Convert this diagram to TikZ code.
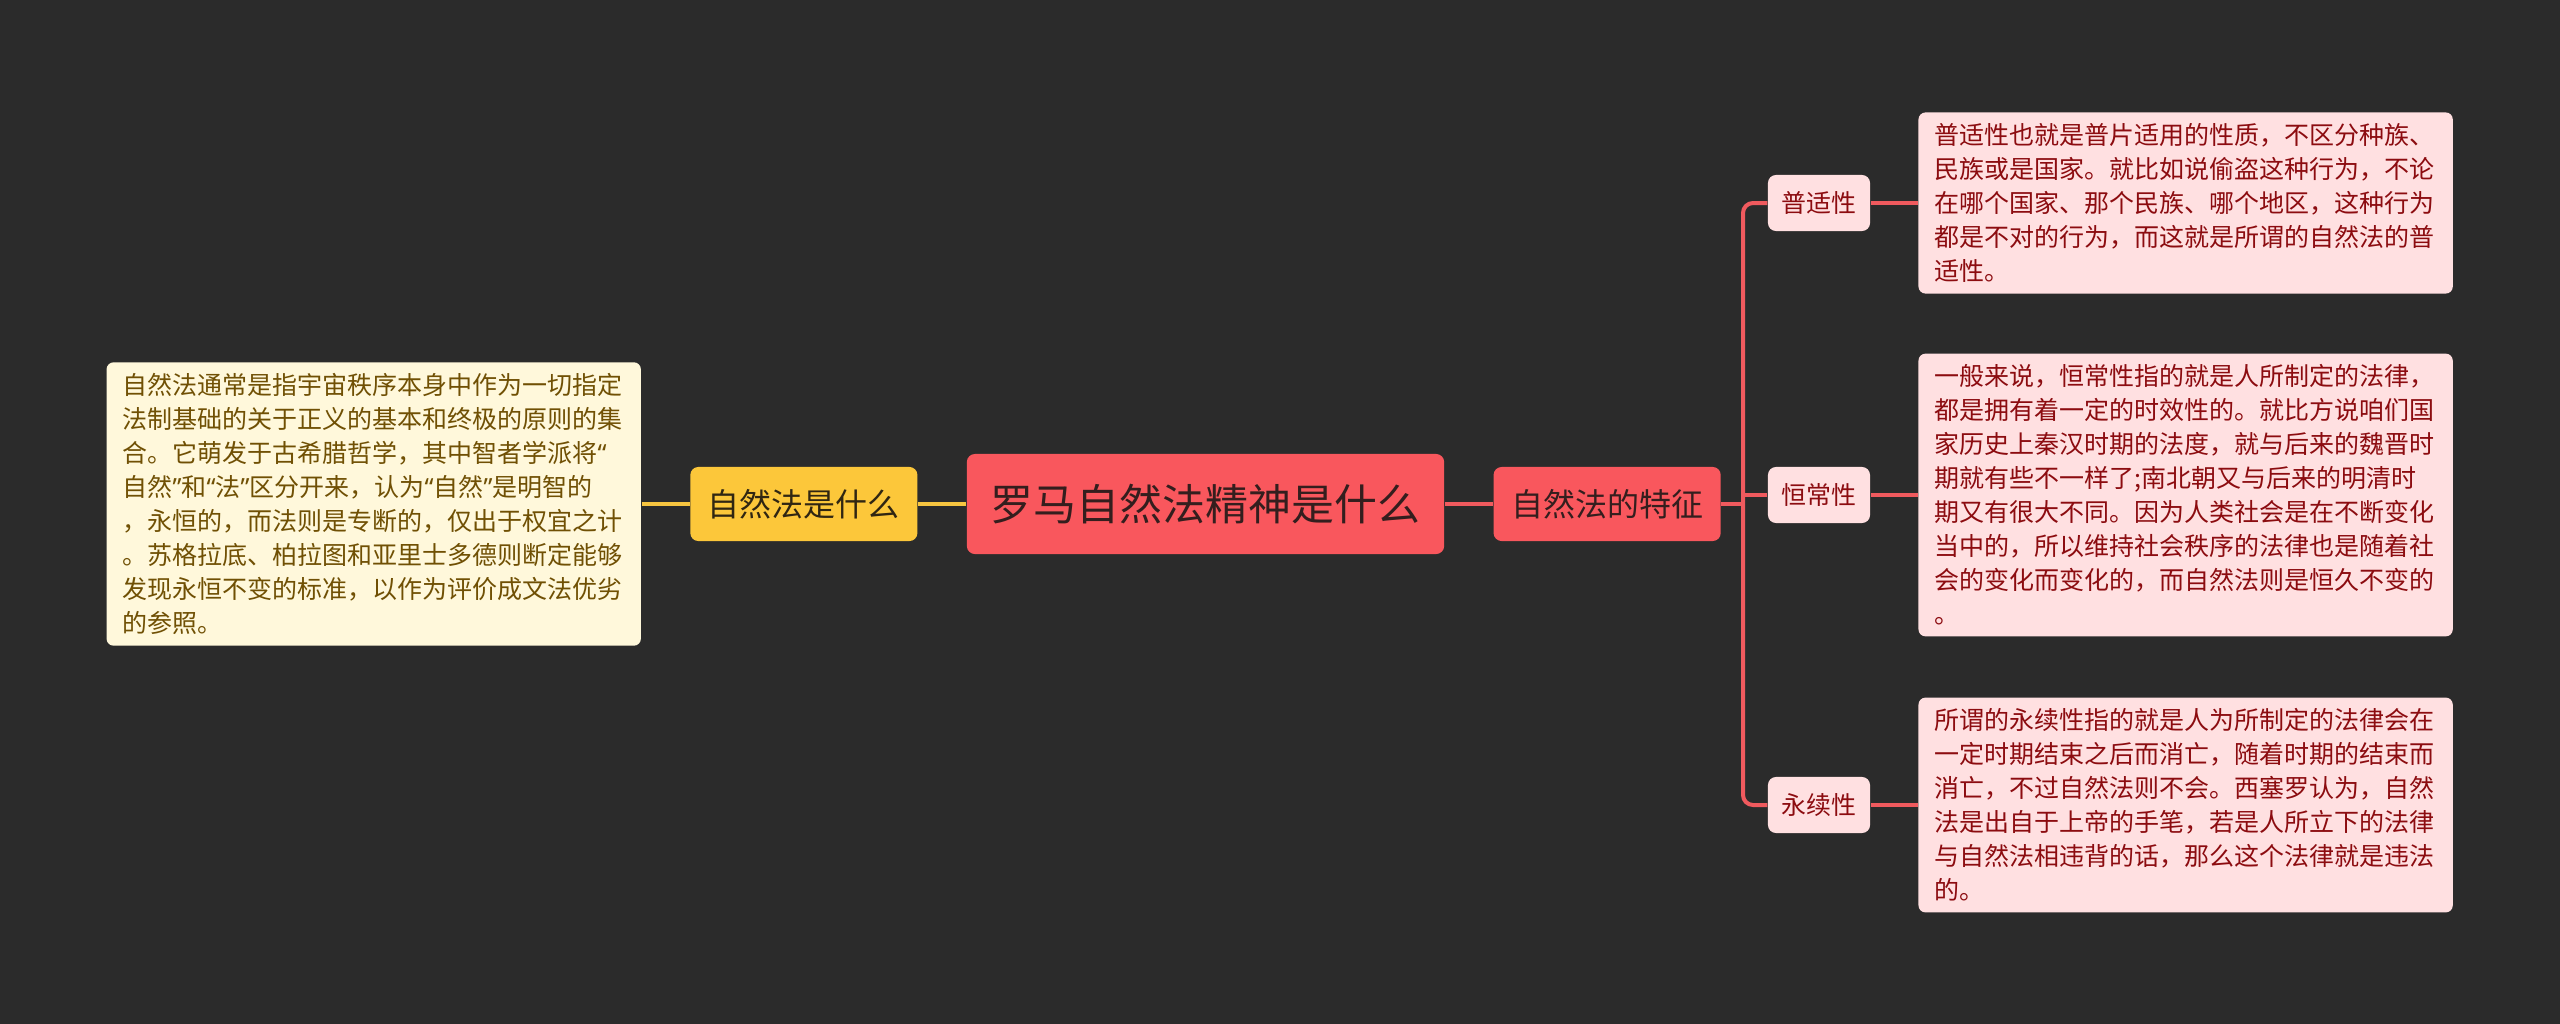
\documentclass[tikz,border=0pt]{standalone}
\usepackage{fontspec}
\setmainfont{Noto Sans CJK SC}
\newfontfamily\quotefont{Noto Sans}
\newcommand\qopen{{\quotefont “}}
\newcommand\qclose{{\quotefont ”}}
\usepackage{tikz}
\usetikzlibrary{positioning}
\definecolor{bgdark}{RGB}{43,43,43}
\definecolor{rootred}{RGB}{249,87,93}
\definecolor{rootink}{RGB}{52,30,30}
\definecolor{gold}{RGB}{252,199,58}
\definecolor{goldink}{RGB}{48,38,18}
\definecolor{cream}{RGB}{255,248,219}
\definecolor{creamink}{RGB}{112,80,4}
\definecolor{pink}{RGB}{255,224,225}
\definecolor{pinkink}{RGB}{140,12,16}
\definecolor{redline}{RGB}{240,90,94}
\definecolor{goldline}{RGB}{247,197,64}
\tikzset{
  mapnode/.style = {align=center, inner sep=0pt, rounded corners=0.08cm},
  mm_root/.style = {mapnode, fill=rootred, text=rootink,
    minimum width=4.77cm, minimum height=1cm,
    font=\fontsize{12.2pt}{14pt}\selectfont},% sujet central
  mm_main/.style = {mapnode, minimum width=2.27cm, minimum height=0.74cm,
    font=\fontsize{9.1pt}{11pt}\selectfont},% branche principale
  mm_leaf/.style = {mapnode, fill=pink, text=pinkink,
    minimum width=1.02cm, minimum height=0.56cm,
    font=\fontsize{7.1pt}{9pt}\selectfont},% sous-branche
  mm_note/.style = {align=left, text width=5.02cm, inner xsep=0.16cm,
    inner ysep=0.11cm, rounded corners=0.07cm,
    font=\fontsize{7.11pt}{9.67pt}\selectfont},% texte detaille
  gold_link/.style = {draw=goldline, line width=0.04cm},
  red_link/.style = {draw=redline, line width=0.04cm, rounded corners=0.1cm}
}

\begin{document}
\begin{tikzpicture}[x=0.01cm, y=-0.01cm]
        \fill[bgdark] (0,0) rectangle (2560,1024);
        \useasboundingbox (0,0) rectangle (2560,1024);

        \node [mm_root] (root) at (1205.5,504) {罗马自然法精神是什么};

        % cote gauche
        \node [mm_main, fill=gold, text=goldink, left=0.48cm of root] (whatis) {自然法是什么};
        \node [mm_note, fill=cream, text=creamink, left=0.48cm of whatis] (whatisnote)
          {自然法通常是指宇宙秩序本身中作为一切指定\\
           法制基础的关于正义的基本和终极的原则的集\\
           合。它萌发于古希腊哲学，其中智者学派将\qopen\\
           自然\qclose 和\qopen 法\qclose 区分开来，认为\qopen 自然\qclose 是明智的\\
           ，永恒的，而法则是专断的，仅出于权宜之计\\
           。苏格拉底、柏拉图和亚里士多德则断定能够\\
           发现永恒不变的标准，以作为评价成文法优劣\\
           的参照。};

        % cote droit
        \node [mm_main, fill=rootred, text=rootink, right=0.48cm of root] (feature) {自然法的特征};
        \coordinate (trunk) at (1743,504);
        \node [mm_leaf] (univ) at (1819,203) {普适性};
        \node [mm_leaf] (const) at (1819,495) {恒常性};
        \node [mm_leaf] (perm) at (1819,805) {永续性};
        \node [mm_note, fill=pink, text=pinkink, right=0.47cm of univ] (univnote)
          {普适性也就是普片适用的性质，不区分种族、\\
           民族或是国家。就比如说偷盗这种行为，不论\\
           在哪个国家、那个民族、哪个地区，这种行为\\
           都是不对的行为，而这就是所谓的自然法的普\\
           适性。};
        \node [mm_note, fill=pink, text=pinkink, right=0.47cm of const] (constnote)
          {一般来说，恒常性指的就是人所制定的法律，\\
           都是拥有着一定的时效性的。就比方说咱们国\\
           家历史上秦汉时期的法度，就与后来的魏晋时\\
           期就有些不一样了;南北朝又与后来的明清时\\
           期又有很大不同。因为人类社会是在不断变化\\
           当中的，所以维持社会秩序的法律也是随着社\\
           会的变化而变化的，而自然法则是恒久不变的\\
           。};
        \node [mm_note, fill=pink, text=pinkink, right=0.47cm of perm] (permnote)
          {所谓的永续性指的就是人为所制定的法律会在\\
           一定时期结束之后而消亡，随着时期的结束而\\
           消亡，不过自然法则不会。西塞罗认为，自然\\
           法是出自于上帝的手笔，若是人所立下的法律\\
           与自然法相违背的话，那么这个法律就是违法\\
           的。};

        % liens
        \draw [gold_link] (whatisnote) -- (whatis);
        \draw [gold_link] (whatis) -- (root);
        \draw [red_link] (root) -- (feature);
        \draw [red_link] (feature) -- (trunk);
        \draw [red_link] (univ.west) -| (trunk);
        \draw [red_link] (perm.west) -| (trunk);
        \draw [red_link] (const.west) -- (const.west -| trunk);
        \draw [red_link] (univ) -- (univnote);
        \draw [red_link] (const) -- (constnote);
        \draw [red_link] (perm) -- (permnote);
        \end{tikzpicture}
\end{document}
